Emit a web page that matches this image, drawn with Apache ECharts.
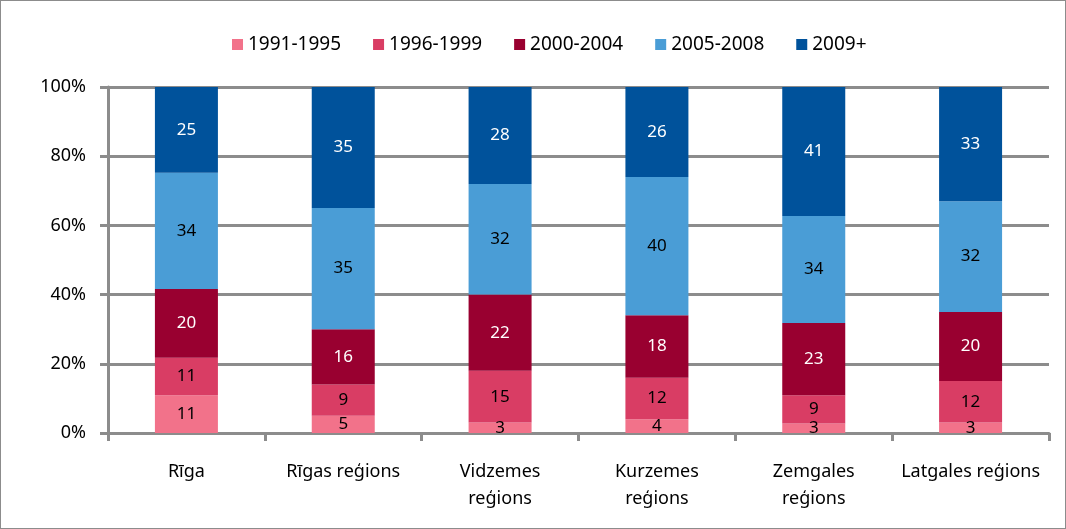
<!DOCTYPE html>
<html>
<head>
<meta charset="utf-8">
<script src="https://cdn.jsdelivr.net/npm/echarts@6/dist/echarts.min.js"></script>
<style>
  html, body { margin: 0; padding: 0; background: #fff; }
  #main { width: 1066px; height: 529px; box-sizing: border-box; border: 1px solid #8c8c8c; }
</style>
</head>
<body>
<div id="main"></div>
<script>
var categories = ['Rīga', 'Rīgas reģions', 'Vidzemes\nreģions', 'Kurzemes\nreģions', 'Zemgales\nreģions', 'Latgales reģions'];
var seriesNames = ['1991-1995', '1996-1999', '2000-2004', '2005-2008', '2009+'];
var v1991 = [11, 5, 3, 4, 3, 3];
var v1996 = [11, 9, 15, 12, 9, 12];
var v2000 = [20, 16, 22, 18, 23, 20];
var v2005 = [34, 35, 32, 40, 34, 32];
var v2009 = [25, 35, 28, 26, 41, 33];
var yTicks = [0, 20, 40, 60, 80, 100];

var colors = ['#f2728a', '#d93d64', '#990030', '#4a9dd6', '#00529b'];
var labelColors = ['#000', '#000', '#fff', '#000', '#fff'];
var rows = [v1991, v1996, v2000, v2005, v2009];

// 100% stacked: each bar scaled to its column total
var totals = categories.map(function (c, i) {
    var s = 0;
    rows.forEach(function (r) { s += r[i]; });
    return s;
});

var myChart = echarts.init(document.getElementById('main'));
var font = 'Noto Sans';

var series = rows.map(function (r, k) {
    return {
        name: seriesNames[k],
        type: 'bar',
        stack: 'all',
        barWidth: 63,
        itemStyle: { color: colors[k] },
        label: {
            show: true,
            position: 'inside',
            color: labelColors[k],
            fontFamily: font,
            fontSize: 17,
            formatter: function (p) { return r[p.dataIndex]; }
        },
        data: r.map(function (v, i) { return v / totals[i] * 100; })
    };
});

var option = {
    animation: false,
    textStyle: { fontFamily: font },
    legend: {
        top: 29,
        left: 226,
        itemWidth: 11,
        itemHeight: 11,
        itemGap: 32,
        icon: 'rect',
        textStyle: { fontSize: 19, color: '#000', fontFamily: font },
        data: seriesNames
    },
    grid: { left: 107, right: 16, top: 86, bottom: 95 },
    xAxis: {
        type: 'category',
        data: categories,
        axisLine: { lineStyle: { color: '#8c8c8c', width: 3 } },
        axisTick: { show: true, alignWithLabel: false, length: 8, lineStyle: { color: '#8c8c8c', width: 3 } },
        axisLabel: { color: '#000', fontSize: 18, margin: 25, lineHeight: 27, fontFamily: font, interval: 0 }
    },
    yAxis: {
        type: 'value',
        min: yTicks[0],
        max: yTicks[yTicks.length - 1],
        interval: yTicks[1] - yTicks[0],
        axisLine: { show: true, lineStyle: { color: '#8c8c8c', width: 3 } },
        axisTick: { show: true, length: 8, lineStyle: { color: '#8c8c8c', width: 3 } },
        splitLine: { lineStyle: { color: '#8c8c8c', width: 3 } },
        axisLabel: { color: '#000', fontSize: 18, margin: 22, fontFamily: font, formatter: '{value}%' }
    },
    series: series
};

myChart.setOption(option);
</script>
</body>
</html>
